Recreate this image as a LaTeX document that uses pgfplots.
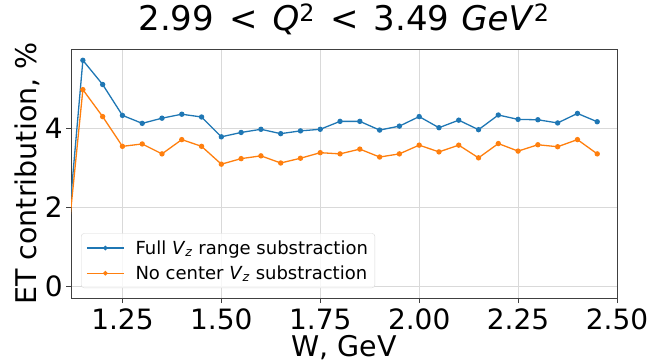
\documentclass[border=0pt]{standalone}
\usepackage{fontspec}
\setmainfont{DejaVu Sans}
\usepackage{pgfplots}
\pgfplotsset{compat=1.18}
\usepackage{pgfplotstable}

\definecolor{mplblue}{HTML}{1F77B4}
\definecolor{mplorange}{HTML}{FF7F0E}

% W [GeV] and ET contribution [%]
\pgfplotstableread{
W    full  nocenter
1.10 0.00  0.00
1.15 5.71  4.97
1.20 5.10  4.29
1.25 4.32  3.54
1.30 4.12  3.60
1.35 4.25  3.35
1.40 4.35  3.71
1.45 4.28  3.54
1.50 3.78  3.09
1.55 3.89  3.23
1.60 3.97  3.30
1.65 3.86  3.12
1.70 3.93  3.24
1.75 3.97  3.38
1.80 4.17  3.35
1.85 4.17  3.47
1.90 3.95  3.27
1.95 4.05  3.35
2.00 4.29  3.57
2.05 4.01  3.40
2.10 4.20  3.57
2.15 3.96  3.25
2.20 4.33  3.61
2.25 4.22  3.42
2.30 4.21  3.58
2.35 4.13  3.53
2.40 4.37  3.71
2.45 4.16  3.35
}\datatable

\newcommand{\rel}{\hspace{15pt}<\hspace{15pt}}

\begin{document}
\begin{tikzpicture}
\useasboundingbox (0,0) rectangle (650pt,362pt);
\begin{axis}[
  at={(71pt,64pt)}, anchor=south west,
  scale only axis,
  width=546pt, height=249pt,
  xmin=1.12, xmax=2.5,
  ymin=-0.285, ymax=5.995,
  xtick={1.25,1.5,1.75,2,2.25,2.5},
  ytick={0,2,4},
  xtick pos=bottom, ytick pos=left,
  /pgf/number format/assume math mode=true,
  tick label style={font=\fontsize{28}{32}\selectfont, text=black},
  xticklabel style={anchor=base, yshift=-26pt, inner sep=0pt,
    /pgf/number format/fixed, /pgf/number format/fixed zerofill,
    /pgf/number format/precision=2},
  yticklabel style={anchor=east, inner sep=0pt, xshift=-3pt},
  tick align=outside,
  major tick length=5pt,
  tick style={black!75, line width=0.8pt},
  axis line style={black!75, line width=0.8pt},
  grid=major,
  major grid style={gray!30, line width=0.8pt},
  xlabel={W, GeV},
  ylabel={ET contribution, \%},
  label style={font=\fontsize{28.5}{34}\selectfont},
  xlabel style={at={(axis description cs:0.5,0)}, anchor=base, yshift=-58pt},
  ylabel style={at={(axis description cs:0,0.5)}, anchor=center, yshift=44pt},
  title={2.99\rel\textit{Q}\textsuperscript{2}\rel3.49\hspace{12pt}\textit{GeV}\textsuperscript{2}},
  title style={at={(axis description cs:0.5,1)}, anchor=base, yshift=12pt, font=\fontsize{34}{38}\selectfont},
  legend cell align=left,
  legend style={at={(axis description cs:0,0)}, anchor=south west, xshift=10pt, yshift=10pt,
    rounded corners=3pt, draw=gray!30, fill=white, fill opacity=0.8, text opacity=1,
    font=\fontsize{18}{22}\selectfont, inner xsep=5pt, inner ysep=5pt,
    row sep=6pt},
  legend image code/.code={
    \draw[mark repeat=2, mark phase=2, mark size=1.6pt] plot coordinates {(0pt,0pt) (18.5pt,0pt) (37pt,0pt)};
    \path (46pt,0pt);
  },
]
\addplot[mplblue, line width=1.3pt, mark=*, mark size=2pt, mark options={solid}]
  table[x=W, y=full] {\datatable};
\addlegendentry{Full \textit{V}\textsubscript{\textit{z}} range substraction}
\addplot[mplorange, line width=1.3pt, mark=*, mark size=2pt, mark options={solid}]
  table[x=W, y=nocenter] {\datatable};
\addlegendentry{No center \textit{V}\textsubscript{\textit{z}} substraction}
\end{axis}
\end{tikzpicture}
\end{document}
